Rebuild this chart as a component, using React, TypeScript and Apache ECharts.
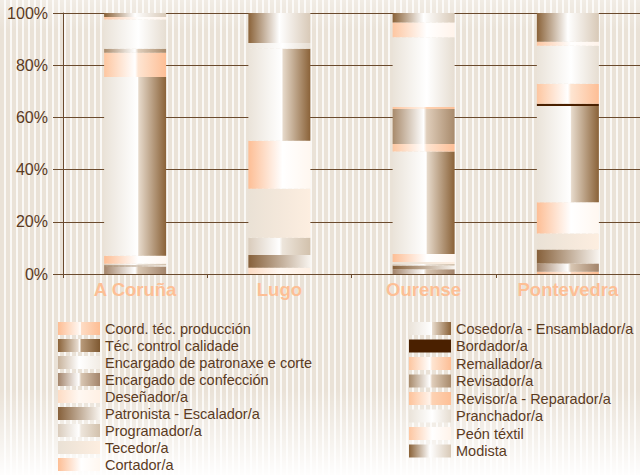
import React, { useEffect, useRef } from "react";
import * as echarts from "echarts";

const categories = ["A Coruña", "Lugo", "Ourense", "Pontevedra"];
const yTicks = [0, 20, 40, 60, 80, 100];

const seriesNames = [
  "Coord. téc. producción",
  "Téc. control calidade",
  "Encargado de patronaxe e corte",
  "Encargado de confección",
  "Deseñador/a",
  "Patronista - Escalador/a",
  "Programador/a",
  "Tecedor/a",
  "Cortador/a",
  "Cosedor/a - Ensamblador/a",
  "Bordador/a",
  "Remallador/a",
  "Revisador/a",
  "Revisor/a - Reparador/a",
  "Pranchador/a",
  "Peón téxtil",
  "Modista",
];

// percentage shares per province (A Coruña, Lugo, Ourense, Pontevedra)
const coord = [0, 0, 0, 0.9];
const tecControl = [0, 0, 0, 0];
const encPatronaxe = [0, 0, 0, 0];
const encConfeccion = [2.9, 0, 1.8, 3.1];
const desenador = [0, 2.4, 0, 0];
const patronista = [0.5, 4.9, 1.5, 5.4];
const programador = [0.5, 6.6, 0.5, 0];
const tecedor = [0, 18.8, 0.8, 6.1];
const cortador = [3.1, 18.4, 3.1, 12.0];
const cosedor = [68.5, 35.2, 39.2, 36.9];
const bordador = [0, 0, 0, 0.8];
const remallador = [9.3, 0, 2.9, 7.7];
const revisador = [1.5, 0, 13.4, 0];
const revisor = [0, 0, 0.8, 0];
const pranchador = [11.2, 2.2, 26.7, 14.6];
const peon = [1.0, 0, 5.7, 1.5];
const modista = [1.5, 11.5, 3.6, 11.0];

const seriesValues = [
  coord, tecControl, encPatronaxe, encConfeccion, desenador, patronista,
  programador, tecedor, cortador, cosedor, bordador, remallador, revisador,
  revisor, pranchador, peon, modista,
];

type Stops = [number, string][];
const fills: (Stops | string)[] = [
  [[0, "#FDBD93"], [0.5, "#FFF6EF"], [0.53, "#FFFFFF"], [0.56, "#FEDCC4"], [1, "#FDBD93"]],
  [[0, "#8A6238"], [0.47, "#E6DACD"], [0.52, "#FFFFFF"], [0.55, "#B89A7A"], [1, "#7E5830"]],
  [[0, "#C8B39C"], [0.5, "#FFFFFF"], [1, "#F2ECE4"]],
  [[0, "#A3846A"], [0.5, "#FFFFFF"], [0.55, "#D8C6B2"], [1, "#A3846A"]],
  [[0, "#FDDCC4"], [0.5, "#FFF8F2"], [1, "#FFF0E4"]],
  [[0, "#86603A"], [1, "#F8F4EF"]],
  [[0, "#D9CBBB"], [0.5, "#FFFFFF"], [0.55, "#EDE5DB"], [1, "#D2C1AC"]],
  [[0, "#EAE1D5"], [1, "#FDEEE0"]],
  [[0, "#FDBE95"], [0.55, "#FFFFFF"], [1, "#FFF7F0"]],
  [[0, "#EAE3D9"], [0.54, "#FFFFFF"], [0.56, "#E6D9CA"], [1, "#8A6238"]],
  "#4A2000",
  [[0, "#FDC6A0"], [0.5, "#FFFFFF"], [0.55, "#FEE5D2"], [1, "#FDBE95"]],
  [[0, "#A88A6B"], [0.5, "#FFFFFF"], [0.55, "#E0CEBB"], [1, "#A88A6B"]],
  [[0, "#FDC29A"], [0.5, "#FFF3EA"], [0.55, "#FDD2B3"], [1, "#FDBF96"]],
  [[0, "#EAE3D9"], [0.55, "#FFFFFF"], [1, "#E6DDD1"]],
  [[0, "#FDC6A1"], [0.55, "#FFFFFF"], [1, "#FFF3EA"]],
  [[0, "#8A6238"], [0.5, "#FFFFFF"], [1, "#D8C9B7"]],
];

const toColor = (f: Stops | string) =>
  typeof f === "string"
    ? f
    : new echarts.graphic.LinearGradient(
        0, 0, 1, 0,
        f.map(([offset, color]) => ({ offset, color }))
      );

const BROWN = "#5B3B1F";
const LINE = "#6B4B2E";

export default function App() {
  const ref = useRef<HTMLDivElement>(null);
  useEffect(() => {
    if (!ref.current) return;
    const chart = echarts.init(ref.current, null, { renderer: "svg" });
    const legendText = {
      color: BROWN,
      fontSize: 14.5,
      fontFamily: "Liberation Sans, Arial, sans-serif",
    };
    chart.setOption({
      animation: false,
      backgroundColor: "transparent",
      grid: { left: 63, right: -8, top: 13, bottom: 201, containLabel: false },
      legend: [
        {
          data: seriesNames.slice(0, 9),
          orient: "vertical",
          left: 58,
          top: 321,
          padding: 0,
          height: 154,
          icon: "rect",
          itemWidth: 42,
          itemHeight: 13,
          itemGap: 2.0,
          selectedMode: false,
          textStyle: legendText,
        },
        {
          data: seriesNames.slice(9),
          orient: "vertical",
          left: 409,
          top: 321,
          padding: 0,
          height: 154,
          icon: "rect",
          itemWidth: 42,
          itemHeight: 13,
          itemGap: 2.5,
          selectedMode: false,
          textStyle: legendText,
        },
      ],
      xAxis: {
        type: "category",
        data: categories,
        axisLine: { show: true, lineStyle: { color: LINE, width: 1 } },
        axisTick: { show: true, inside: false, length: 4, lineStyle: { color: LINE } },
        axisLabel: {
          color: "#FDBF95",
          fontSize: 18.5,
          fontWeight: "bold",
          fontFamily: "Liberation Sans, Arial, sans-serif",
          margin: 6,
        },
      },
      yAxis: {
        type: "value",
        min: yTicks[0],
        max: yTicks[yTicks.length - 1],
        interval: 20,
        axisLine: { show: true, lineStyle: { color: LINE, width: 1 } },
        axisTick: { show: true, length: 10, lineStyle: { color: LINE } },
        splitLine: { show: true, lineStyle: { color: LINE, width: 1 } },
        axisLabel: {
          formatter: "{value}%",
          color: BROWN,
          fontSize: 16,
          fontFamily: "Liberation Sans, Arial, sans-serif",
          margin: 15,
        },
      },
      series: seriesNames.map((name, i) => ({
        name,
        type: "bar",
        stack: "total",
        barWidth: 62,
        data: seriesValues[i],
        itemStyle: { color: toColor(fills[i]) },
        emphasis: { disabled: true },
      })),
    });
    return () => chart.dispose();
  }, []);
  return (
    <div
      style={{
        position: "fixed",
        left: 0,
        top: 0,
        width: 640,
        height: 475,
        background:
          "linear-gradient(to bottom, rgba(255,255,255,0.35) 0px, rgba(255,255,255,0) 30px, rgba(255,255,255,0) 390px, rgba(255,255,255,0.95) 475px), repeating-linear-gradient(90deg, #EAE2D7 0px, #EAE2D7 4px, #FAF8F5 4px, #FAF8F5 6px)",
      }}
    >
      <div ref={ref} style={{ width: 640, height: 475 }} />
    </div>
  );
}
